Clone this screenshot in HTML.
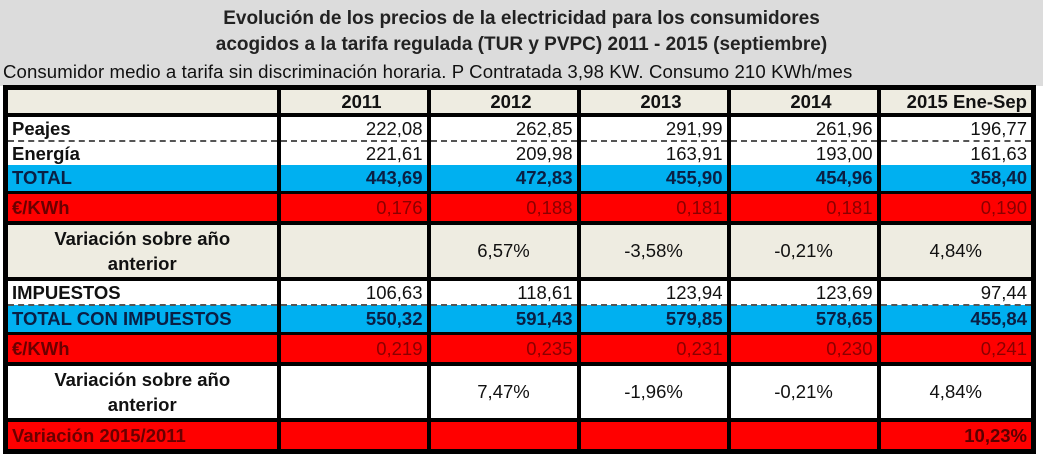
<!DOCTYPE html>
<html><head><meta charset="utf-8"><style>
body{margin:0;width:1043px;height:452px;background:#fff;overflow:hidden;font-family:"Liberation Sans",sans-serif}
.hdr{position:absolute;left:0;top:0;width:1043px;height:86px;background:#dcdcdc}
.t{position:absolute;left:0;width:1043px;text-align:center;font-weight:bold;font-size:19px;color:#222;white-space:nowrap}
.s{position:absolute;left:3px;top:61px;font-size:18.6px;color:#111;white-space:nowrap;letter-spacing:0.1px}
table{position:absolute;left:3px;top:85px;border-collapse:collapse;border:5px solid #000;table-layout:fixed}
td{border-left:4px solid #000;border-right:4px solid #000;padding:0 4px;font-size:18.5px;color:#111;white-space:nowrap;text-align:right;line-height:20px}
td:first-child{text-align:left;font-weight:bold}
tr.th td{background:#eeece1;font-weight:bold;border-bottom:4px solid #000;height:23px}
tr.w td{background:#fff;height:23px}
tr.d td{border-bottom:2px dashed #555}
tr.b td{background:#00b0f0;font-weight:bold;color:#0a1f44;height:26px;border-bottom:3px solid #000}
tr.r td{background:#f00;color:#8a0000;height:27px;border-bottom:4px solid #000}
tr.r td:first-child{color:#6a0000}
tr.v td{height:52px;text-align:center;border-bottom:4px solid #000}
tr.v td:first-child{text-align:center;line-height:25px}
tr.g td{background:#eeece1}
tr.wh td{background:#fff}
</style></head><body>
<div class="hdr"></div>
<div class="t" style="top:8px">Evolución de los precios de la electricidad para los consumidores</div>
<div class="t" style="top:34px">acogidos a la tarifa regulada (TUR y PVPC) 2011 - 2015 (septiembre)</div>
<div class="s">Consumidor medio a tarifa sin discriminación horaria. P Contratada 3,98 KW. Consumo 210 KWh/mes</div>
<table>
<colgroup><col style="width:273px"><col style="width:150px"><col style="width:150px"><col style="width:150px"><col style="width:150px"><col style="width:155px"></colgroup>
<tr class="th"><td></td><td style="padding-right:45px">2011</td><td style="padding-right:45px">2012</td><td style="padding-right:45px">2013</td><td style="padding-right:45px">2014</td><td>2015 Ene-Sep</td></tr>
<tr class="w d"><td>Peajes</td><td>222,08</td><td>262,85</td><td>291,99</td><td>261,96</td><td>196,77</td></tr>
<tr class="w"><td>Energía</td><td>221,61</td><td>209,98</td><td>163,91</td><td>193,00</td><td>161,63</td></tr>
<tr class="b"><td>TOTAL</td><td>443,69</td><td>472,83</td><td>455,90</td><td>454,96</td><td>358,40</td></tr>
<tr class="r"><td>€/KWh</td><td>0,176</td><td>0,188</td><td>0,181</td><td>0,181</td><td>0,190</td></tr>
<tr class="v g"><td>Variación sobre año<br>anterior</td><td></td><td>6,57%</td><td>-3,58%</td><td>-0,21%</td><td>4,84%</td></tr>
<tr class="w d"><td>IMPUESTOS</td><td>106,63</td><td>118,61</td><td>123,94</td><td>123,69</td><td>97,44</td></tr>
<tr class="b"><td>TOTAL CON IMPUESTOS</td><td>550,32</td><td>591,43</td><td>579,85</td><td>578,65</td><td>455,84</td></tr>
<tr class="r"><td>€/KWh</td><td>0,219</td><td>0,235</td><td>0,231</td><td>0,230</td><td>0,241</td></tr>
<tr class="v wh"><td>Variación sobre año<br>anterior</td><td></td><td>7,47%</td><td>-1,96%</td><td>-0,21%</td><td>4,84%</td></tr>
<tr class="r"><td>Variación 2015/2011</td><td></td><td></td><td></td><td></td><td style="font-weight:bold;color:#5a0000">10,23%</td></tr>
</table>
</body></html>
